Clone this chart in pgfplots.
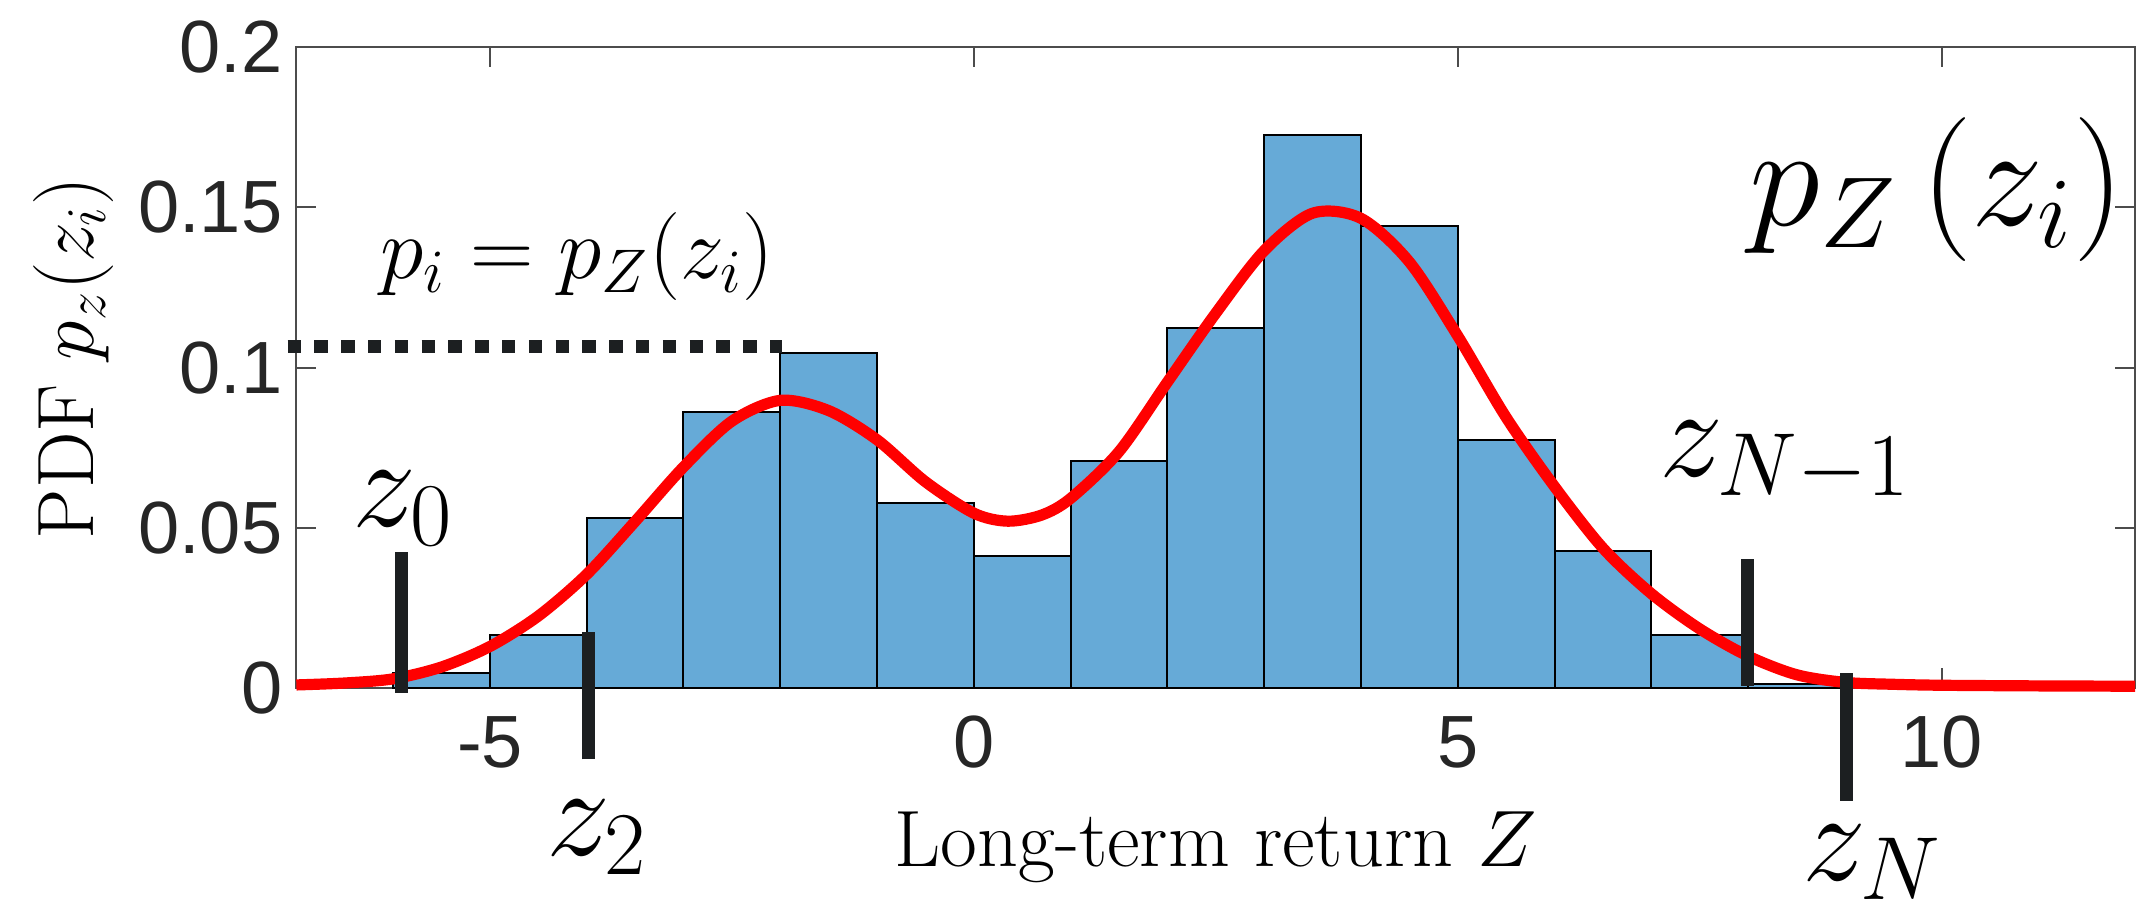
\RequirePackage{fix-cm}
\documentclass[border=0pt]{standalone}
\usepackage{fontspec}
\usepackage{pgfplots}
\pgfplotsset{compat=1.18}
\newfontfamily\ticksans{Liberation Sans}
\definecolor{barblue}{RGB}{102,170,215}
\definecolor{mk}{rgb}{0.11,0.12,0.13}
\definecolor{axgray}{rgb}{0.3,0.3,0.3}
\begin{document}
\begin{tikzpicture}
\begin{axis}[
  scale only axis, width=459.75pt, height=160.25pt,
  xmin=-7, xmax=12, ymin=0, ymax=0.2,
  clip=false,
  axis line style={axgray, line width=0.5pt},
  every tick/.style={axgray, line width=0.5pt},
  tick align=inside, major tick length=5pt,
  xtick pos=both, ytick pos=both,
  xtick={-5,0,5,10}, xticklabels={-5,0,5,10},
  ytick={0,0.05,0.1,0.15,0.2}, yticklabels={0,0.05,0.1,0.15,0.2},
  ticklabel style={font=\fontsize{18.5}{19}\selectfont\ticksans, text=black!85},
  xticklabel style={yshift=-3.5pt},
  yticklabel style={xshift=0pt},
]
\addplot[ybar interval, fill=barblue, draw=black, line width=0.5pt] coordinates {
(-6,0.0047) (-5,0.0166) (-4,0.0530) (-3,0.0861) (-2,0.1047) (-1,0.0579)
(0,0.0411) (1,0.0710) (2,0.1123) (3,0.1726) (4,0.1441) (5,0.0774)
(6,0.0429) (7,0.0165) (8,0.0012) (9,0.0012)};
\addplot[red, line width=2.8pt, smooth] coordinates {
(-7.0,0.0010) (-6.5,0.0016) (-6.0,0.0029) (-5.5,0.0066) (-5.0,0.0130)
(-4.5,0.0225) (-4.0,0.0355) (-3.5,0.0520) (-3.0,0.0690) (-2.5,0.0833)
(-2.0,0.0898) (-1.5,0.0866) (-1.0,0.0775) (-0.5,0.0644) (0.0,0.0546)
(0.35,0.0521) (0.7,0.0540) (1.0,0.0592) (1.5,0.0738) (2.0,0.0955) (2.5,0.1170)
(3.0,0.1365) (3.5,0.1482) (4.0,0.1466) (4.5,0.1330) (5.0,0.1099)
(5.5,0.0845) (6.0,0.0629) (6.5,0.0437) (7.0,0.0295) (7.5,0.0185)
(8.0,0.0100) (8.5,0.0042) (9.0,0.0018) (9.5,0.0012) (10.0,0.0009)
(11.0,0.0007) (12.0,0.0006)};
\addplot[mk, line width=3.3pt, dash pattern=on 3.35pt off 3.35pt] coordinates {(-7.09,0.1066) (-1.98,0.1066)};
\addplot[mk, line width=3.2pt] coordinates {(-5.91,-0.0014) (-5.91,0.0425)};
\addplot[mk, line width=3.2pt] coordinates {(-3.98,-0.0222) (-3.98,0.0175)};
\addplot[mk, line width=3.2pt] coordinates {(7.99,0.0008) (7.99,0.0403)};
\addplot[mk, line width=3.2pt] coordinates {(9.02,-0.0351) (9.02,0.0047)};
\node[font=\fontsize{22}{26}\selectfont, anchor=base] at (axis cs:-4.1,0.1277) {$p_i = p_Z(z_i)$};
\node[font=\fontsize{36}{42}\selectfont] at (axis cs:9.95,0.1555) {$p_Z\,(z_i)$};
\node[font=\fontsize{32}{36}\selectfont] at (axis cs:-5.9,0.056) {$z_0$};
\node[font=\fontsize{32}{36}\selectfont] at (axis cs:-3.89,-0.0465) {$z_2$};
\node[font=\fontsize{32}{36}\selectfont] at (axis cs:8.38,0.0706) {$z_{N-1}$};
\node[font=\fontsize{32}{36}\selectfont] at (axis cs:9.28,-0.0545) {$z_N$};
\node[font=\fontsize{20}{24}\selectfont, anchor=base] at (rel axis cs:0.5,-0.2783) {Long-term return $Z$};
\node[font=\fontsize{20}{24}\selectfont, rotate=90, anchor=base] at (rel axis cs:-0.11006,0.515) {PDF $p_z(z_i)$};
\coordinate (bl) at (rel axis cs:0,0);
\coordinate (tr) at (rel axis cs:1,1);
\end{axis}
\pgfresetboundingbox
\path[use as bounding box] ([xshift=-74.1pt,yshift=-55.9pt]bl) rectangle ([xshift=1.7pt,yshift=11.8pt]tr);
\end{tikzpicture}
\end{document}
